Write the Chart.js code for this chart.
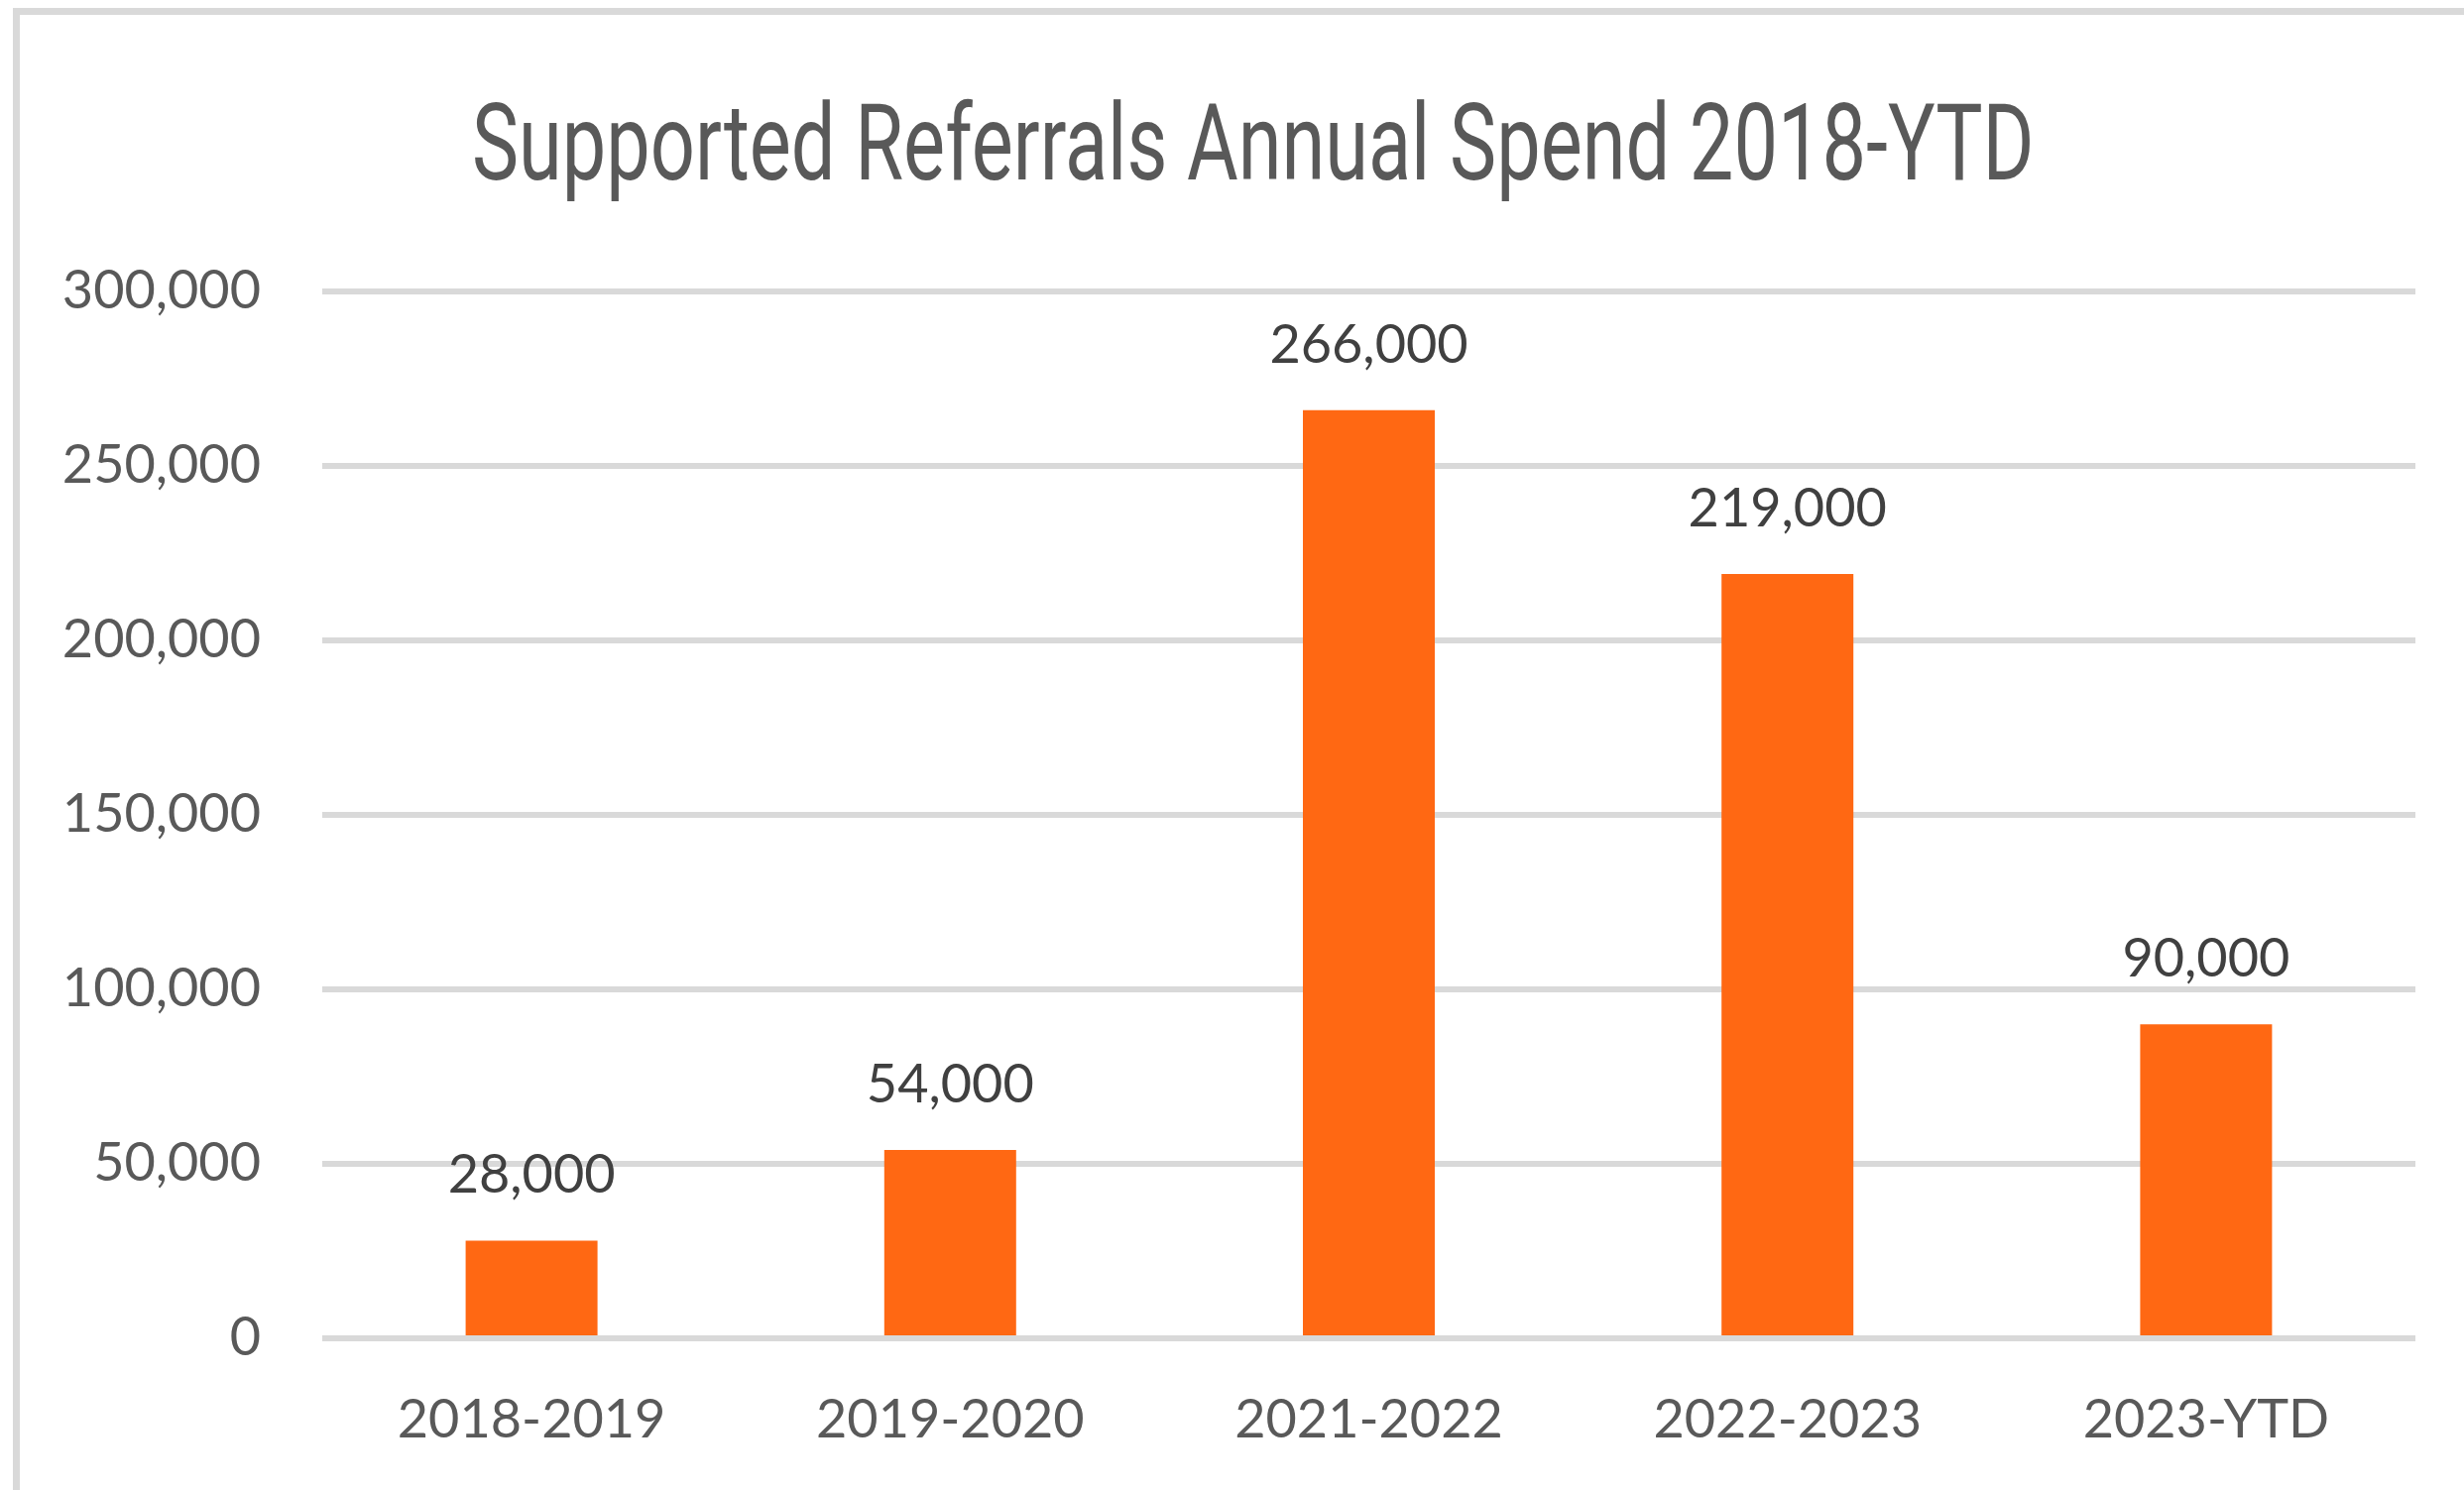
<!DOCTYPE html>
<html>
<head>
<meta charset="utf-8">
<script src="https://cdn.jsdelivr.net/npm/chart.js@4.4.1/dist/chart.umd.min.js"></script>
<style>
  html, body { margin: 0; padding: 0; background: #fff; }
  #wrap { position: relative; width: 2485px; height: 1503px; overflow: hidden; }
  #marco {
    position: absolute; left: 13px; top: 8px; width: 2600px; height: 1600px;
    border-left: 7px solid #d9d9d9; border-top: 7px solid #d9d9d9;
  }
  #grafico { position: absolute; left: 0; top: 0; }
</style>
</head>
<body>
<div id="wrap">
  <div id="marco"></div>
  <canvas id="grafico" width="2485" height="1503"></canvas>
</div>
<script>
// Datos del gráfico
const titulo = "Supported Referrals Annual Spend 2018-YTD";
const categorias = ["2018-2019", "2019-2020", "2021-2022", "2022-2023", "2023-YTD"];
const gasto = [28000, 54000, 266000, 219000, 90000];
const ejeMax = 300000;
const ejePaso = 50000;

const colorBarra = "#FF6813";
const colorTexto = "#595959";
const fuente = "Lato, 'Open Sans', sans-serif";

const formato = (v) => Number(v).toLocaleString("en-US");

// Título dibujado a mano (fuente condensada)
const tituloPlugin = {
  id: "tituloPlugin",
  afterDraw(chart) {
    const ctx = chart.ctx;
    ctx.save();
    ctx.font = "400 107px Roboto, sans-serif";
    ctx.fillStyle = colorTexto;
    ctx.textAlign = "left";
    ctx.textBaseline = "alphabetic";
    const m = ctx.measureText(titulo);
    const ancho = m.actualBoundingBoxLeft + m.actualBoundingBoxRight;
    const sx = (2047 - 479) / ancho;
    ctx.translate(479, 181);
    ctx.scale(sx, 1);
    ctx.fillText(titulo, m.actualBoundingBoxLeft, 0);
    ctx.restore();
  },
};

// Etiquetas de valor sobre las barras
const etiquetasPlugin = {
  id: "etiquetasPlugin",
  afterDatasetsDraw(chart) {
    const ctx = chart.ctx;
    const meta = chart.getDatasetMeta(0);
    ctx.save();
    ctx.font = "54px " + fuente;
    ctx.fillStyle = "#404040";
    ctx.textAlign = "center";
    ctx.textBaseline = "alphabetic";
    meta.data.forEach((bar, i) => {
      ctx.fillText(formato(gasto[i]), bar.x, bar.y - 48);
    });
    ctx.restore();
  },
};

const chart = new Chart(document.getElementById("grafico"), {
  type: "bar",
  data: {
    labels: categorias,
    datasets: [
      {
        data: gasto,
        backgroundColor: colorBarra,
        borderWidth: 0,
        categoryPercentage: 1,
        barPercentage: 0.315,
      },
    ],
  },
  options: {
    responsive: false,
    animation: false,
    layout: { padding: { left: 0, right: 49, top: 294, bottom: 0 } },
    plugins: {
      legend: { display: false },
      tooltip: { enabled: false },
      title: { display: false },
    },
    scales: {
      x: {
        grid: { display: false },
        border: { display: false },
        ticks: {
          color: colorTexto,
          font: { family: fuente, size: 54 },
          padding: 42,
          maxRotation: 0,
        },
        afterFit(scale) {
          scale.height = 153;
        },
      },
      y: {
        min: 0,
        max: ejeMax,
        grid: { color: "#d9d9d9", lineWidth: 6, drawTicks: false },
        border: { display: false },
        ticks: {
          stepSize: ejePaso,
          color: colorTexto,
          font: { family: fuente, size: 54 },
          padding: 62,
          callback: (v) => formato(v),
        },
        afterFit(scale) {
          scale.width = 325;
        },
      },
    },
  },
  plugins: [tituloPlugin, etiquetasPlugin],
});
</script>
</body>
</html>
